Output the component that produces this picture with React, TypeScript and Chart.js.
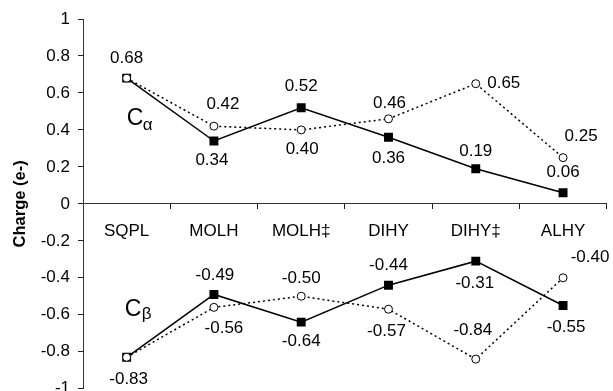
import React, { useEffect, useRef } from "react";
import { Chart, registerables } from "chart.js";

Chart.register(...registerables);

const categories = ["SQPL", "MOLH", "MOLH‡", "DIHY", "DIHY‡", "ALHY"];
const alphaSolid = [0.68, 0.34, 0.52, 0.36, 0.19, 0.06];
const alphaDotted = [0.68, 0.42, 0.40, 0.46, 0.65, 0.25];
const betaSolid = [-0.83, -0.49, -0.64, -0.44, -0.31, -0.55];
const betaDotted = [-0.83, -0.56, -0.50, -0.57, -0.84, -0.40];
const yTickValues = [1, 0.8, 0.6, 0.4, 0.2, 0, -0.2, -0.4, -0.6, -0.8, -1];
const yTitle = "Charge (e-)";

// label placement (pixel offsets from the point), not data
const alphaSolidLabelPos: [number, number][] = [[0, -20], [-2, 19], [0, -21], [0, 21], [0, -17], [0, -20]];
const alphaDottedLabelPos: [number, number][] = [[0, -20], [9, -22], [1, 19], [1, -16], [28, 0], [18, -21]];
const betaSolidLabelPos: [number, number][] = [[2, 22], [1, -19], [0, 19], [0, -20], [-1, 22], [3, 22]];
const betaDottedLabelPos: [number, number][] = [[2, 22], [10, 21], [0, -18], [-2, 22], [-3, -29], [27, -20]];

const FONT = "'Liberation Sans', Arial, sans-serif";

const labelPlugin = {
  id: "pointLabels",
  afterDatasetsDraw(chart: any) {
    const ctx = chart.ctx;
    ctx.save();
    ctx.fillStyle = "#000";
    ctx.font = `17px ${FONT}`;
    ctx.textAlign = "center";
    ctx.textBaseline = "middle";
    chart.data.datasets.forEach((ds: any, i: number) => {
      const meta = chart.getDatasetMeta(i);
      if (!ds.labelPos) return;
      meta.data.forEach((pt: any, j: number) => {
        if (ds.hideLabels && ds.hideLabels[j]) return;
        const [dx, dy] = ds.labelPos[j];
        ctx.fillText(Number(ds.data[j]).toFixed(2), pt.x + dx, pt.y + dy);
      });
    });
    const xs = chart.scales.x;
    const ys = chart.scales.y;
    const x0 = xs.getPixelForValue(0);
    ctx.textAlign = "left";
    ctx.textBaseline = "alphabetic";
    ctx.font = `23px ${FONT}`;
    ctx.fillText("C", x0, ys.getPixelForValue(0.424));
    ctx.fillText("C", x0 - 2, ys.getPixelForValue(-0.609));
    ctx.font = `17px ${FONT}`;
    ctx.fillText("α", x0 + 16, ys.getPixelForValue(0.402));
    ctx.fillText("β", x0 + 15, ys.getPixelForValue(-0.625));
    ctx.restore();
  },
};

export default function App() {
  const ref = useRef<HTMLCanvasElement>(null);
  useEffect(() => {
    if (!ref.current) return;
    const solid = (data: number[], labelPos: any, hideLabels?: boolean[]) => ({
      data,
      labelPos,
      hideLabels,
      borderColor: "#000",
      borderWidth: 1.5,
      backgroundColor: "#000",
      pointStyle: "rect",
      pointRadius: 6.3,
      pointBorderWidth: 0,
      pointBackgroundColor: "#000",
      tension: 0,
      order: 2,
    });
    const dotted = (data: number[], labelPos: any) => ({
      data,
      labelPos,
      borderColor: "#000",
      borderWidth: 1.5,
      borderDash: [2, 3],
      pointStyle: "circle",
      pointRadius: 4,
      pointBorderWidth: 1,
      pointBorderColor: "#000",
      pointBackgroundColor: "#fff",
      tension: 0,
      order: 1,
    });
    const chart = new Chart(ref.current, {
      type: "line",
      data: {
        labels: categories,
        datasets: [
          solid(alphaSolid, alphaSolidLabelPos, [true, false, false, false, false, false]),
          solid(betaSolid, betaSolidLabelPos, [true, false, false, false, false, false]),
          dotted(alphaDotted, alphaDottedLabelPos),
          dotted(betaDotted, betaDottedLabelPos),
        ] as any,
      },
      options: {
        responsive: false,
        animation: false,
        devicePixelRatio: 1,
        layout: { padding: { top: 19, right: 1, bottom: 0, left: 0 } },
        plugins: { legend: { display: false }, tooltip: { enabled: false } },
        scales: {
          x: {
            type: "category",
            position: { y: 0 } as any,
            offset: true,
            grid: { offset: true, drawOnChartArea: false, tickLength: 5, color: "#222", tickWidth: 1 },
            border: { color: "#333", width: 1 },
            ticks: { color: "#000", font: { family: FONT, size: 17 }, padding: 12, maxRotation: 0, autoSkip: false },
          },
          y: {
            min: -1,
            max: 1,
            afterBuildTicks: (s: any) => {
              s.ticks = yTickValues.map((v) => ({ value: v }));
            },
            afterFit: (s: any) => {
              s.width = 83;
              s.paddingTop = 0;
              s.paddingBottom = 0;
            },
            grid: { drawOnChartArea: false, tickLength: 5, color: "#222" },
            border: { color: "#333", width: 1 },
            ticks: {
              color: "#000",
              font: { family: FONT, size: 17 },
              padding: 8,
              callback: (v: any) => String(Number(Number(v).toFixed(1))),
            },
            title: {
              display: true,
              text: yTitle,
              color: "#000",
              font: { family: FONT, size: 16.5, weight: "bold" },
              padding: { top: 11, bottom: 0 },
            },
          },
        },
      },
      plugins: [labelPlugin],
    });
    return () => chart.destroy();
  }, []);
  return (
    <div style={{ position: "absolute", left: 0, top: 0, width: 613, height: 391, overflow: "hidden", background: "#fff" }}>
      <canvas ref={ref} width={613} height={395} style={{ display: "block" }} />
    </div>
  );
}
